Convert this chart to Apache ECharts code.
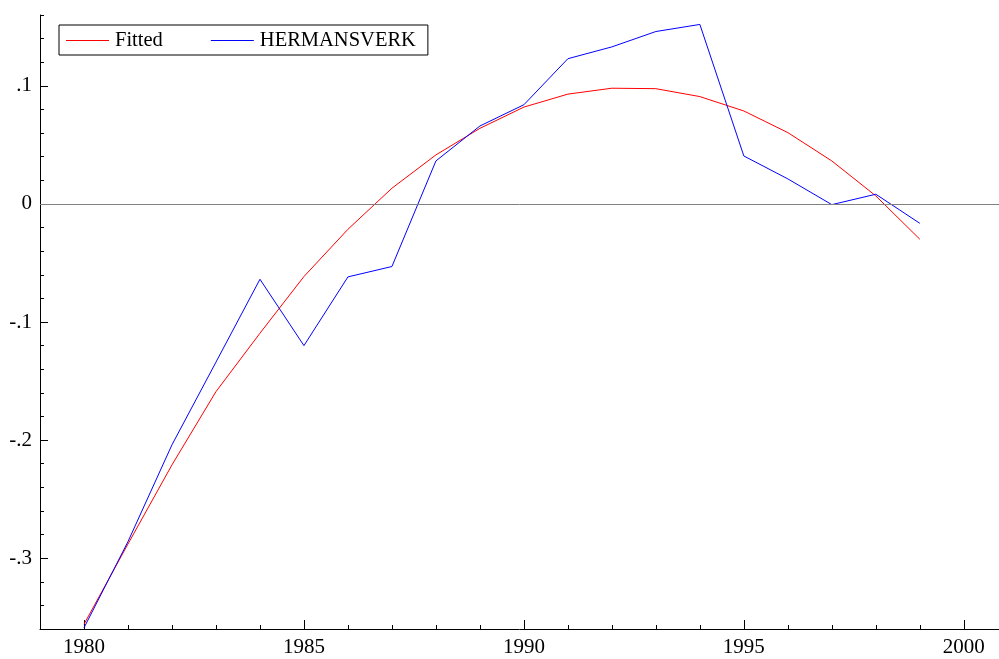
<!DOCTYPE html>
<html>
<head>
<meta charset="utf-8">
<script src="https://cdn.jsdelivr.net/npm/echarts@6/dist/echarts.min.js"></script>
<style>
  html, body { margin: 0; padding: 0; background: #fff; }
  #chart { width: 999px; height: 659px; }
</style>
</head>
<body>
<div id="chart"></div>
<script>
// data
const years = [1980, 1981, 1982, 1983, 1984, 1985, 1986, 1987, 1988, 1989,
               1990, 1991, 1992, 1993, 1994, 1995, 1996, 1997, 1998, 1999];
const fitted = [-0.356, -0.288, -0.221, -0.159, -0.1095, -0.0615, -0.0215, 0.0133, 0.0415, 0.064,
                0.082, 0.093, 0.098, 0.0976, 0.0909, 0.0787, 0.0604, 0.0364, 0.0068, -0.0299];
const hermansverk = [-0.359, -0.286, -0.204, -0.134, -0.0638, -0.12, -0.0618, -0.053, 0.0364, 0.066,
                     0.084, 0.123, 0.133, 0.146, 0.152, 0.0406, 0.0212, -0.0006, 0.0082, -0.0164];
const xMajor = [1980, 1985, 1990, 1995, 2000];
const yMajor = [-0.3, -0.2, -0.1, 0, 0.1];

const font = 'Liberation Serif';

function pairs(vals) {
  return years.map((y, i) => [y, vals[i]]);
}

function yLabel(v) {
  if (Math.abs(v) < 1e-9) return '0';
  const s = (Math.round(v * 10) / 10).toString();
  return s.replace('0.', '.');
}

const chart = echarts.init(document.getElementById('chart'));

const option = {
  animation: false,
  backgroundColor: '#fff',
  grid: { left: 40, right: 0, top: 15, bottom: 30, containLabel: false },
  legend: {
    left: 59, top: 25,
    orient: 'horizontal',
    padding: [5, 12, 4, 7],
    itemGap: 48,
    itemWidth: 43,
    itemHeight: 1,
    icon: 'rect',
    borderColor: '#000',
    borderWidth: 1,
    textStyle: { fontFamily: font, fontSize: 20.5, color: '#000', padding: [0, 0, 0, 1] },
    data: ['Fitted', 'HERMANSVERK']
  },
  xAxis: [
    {
      type: 'value', min: 1979, max: 2000.8, interval: 1,
      position: 'bottom', offset: 0,
      splitLine: { show: false },
      axisLine: { onZero: false, lineStyle: { color: '#000', width: 1 } },
      axisTick: { inside: true, length: 4, lineStyle: { color: '#000' } },
      axisLabel: { show: false }
    },
    {
      type: 'value', min: 1979, max: 2000.8,
      position: 'bottom', offset: 0,
      splitLine: { show: false },
      axisLine: { show: false, onZero: false },
      axisTick: { inside: true, length: 9, customValues: xMajor, lineStyle: { color: '#000' } },
      axisLabel: {
        customValues: xMajor, margin: 8,
        fontFamily: font, fontSize: 21, color: '#000',
        formatter: v => String(v)
      }
    }
  ],
  yAxis: [
    {
      type: 'value', min: -0.36, max: 0.16, interval: 0.02,
      position: 'left', offset: 0,
      splitLine: { show: false },
      axisLine: { show: true, onZero: false, lineStyle: { color: '#000', width: 1 } },
      axisTick: { show: true, inside: true, length: 4, lineStyle: { color: '#000' } },
      axisLabel: { show: false }
    },
    {
      type: 'value', min: -0.36, max: 0.16,
      position: 'left', offset: 0,
      splitLine: { show: false },
      axisLine: { show: false, onZero: false },
      axisTick: { show: true, inside: true, length: 8, customValues: yMajor, lineStyle: { color: '#000' } },
      axisLabel: {
        customValues: yMajor, margin: 8,
        fontFamily: font, fontSize: 21, color: '#000',
        formatter: yLabel
      }
    }
  ],
  series: [
    {
      name: 'Fitted', type: 'line',
      xAxisIndex: 0, yAxisIndex: 0,
      data: pairs(fitted),
      showSymbol: false, symbol: 'none',
      lineStyle: { color: '#ff0000', width: 1 },
      itemStyle: { color: '#ff0000' },
      markLine: {
        silent: true, symbol: 'none', animation: false,
        label: { show: false },
        lineStyle: { color: '#808080', width: 1, type: 'solid' },
        data: [{ yAxis: 0 }]
      },
      z: 3
    },
    {
      name: 'HERMANSVERK', type: 'line',
      xAxisIndex: 0, yAxisIndex: 0,
      data: pairs(hermansverk),
      showSymbol: false, symbol: 'none',
      lineStyle: { color: '#0000ff', width: 1 },
      itemStyle: { color: '#0000ff' },
      z: 4
    }
  ]
};

chart.setOption(option);
</script>
</body>
</html>
